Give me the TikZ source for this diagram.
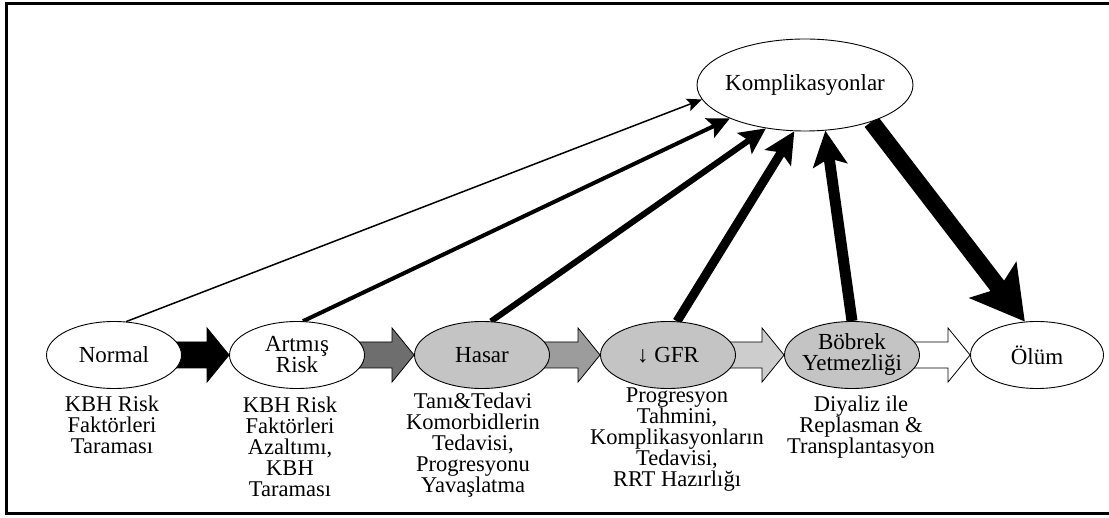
\documentclass[tikz,border=0pt]{standalone}
\usepackage{fontspec}
\setmainfont{Liberation Serif}
\usetikzlibrary{shapes.geometric,arrows.meta,calc}
\pgfdeclarelayer{background}
\pgfsetlayers{background,main}
\definecolor{ellgray}{HTML}{C4C4C4}
\definecolor{arrA}{HTML}{000000}
\definecolor{arrB}{HTML}{6E6E6E}
\definecolor{arrC}{HTML}{9C9C9C}
\definecolor{arrD}{HTML}{CDCDCD}
\definecolor{arrE}{HTML}{FFFFFF}
\newcommand\blockarr[3]{%
  \filldraw[draw=black,line width=0.8pt,fill=#3,line join=miter]
    ($(#1.center)+(50,-13)$) -- ($(#2.west)+(-22,-13)$) -- ($(#2.west)+(-22,-27)$)
    -- (#2.west) -- ($(#2.west)+(-22,27)$) -- ($(#2.west)+(-22,13)$)
    -- ($(#1.center)+(50,13)$) -- cycle;}
\begin{document}
\begin{tikzpicture}[x=1pt,y=-1pt,
  state/.style={ellipse,draw=black,line width=0.9pt,fill=white,minimum width=135pt,
    minimum height=67pt,inner sep=0pt,align=center,font=\fontsize{23}{21}\selectfont},
  grstate/.style={state,fill=ellgray},
  lab/.style={anchor=north,align=center,inner sep=0pt,font=\fontsize{22.5}{21}\selectfont},
  frame/.style={line width=3pt,line cap=rect},
  tocomp/.style={line cap=butt}]
\useasboundingbox (0,0) rectangle (1109,518);
\draw[frame] (1109,4) -- (6,4) -- (6,513) -- (1109,513);

\node[state,minimum width=216pt,minimum height=92pt] (komp) at (805,85) {\makebox[0pt]{Komplikasyonlar}};

\node[state] (normal) at (114,355) {Normal};
\node[state] (artmis) at (297,355) {Artmış\\Risk};
\node[grstate] (hasar) at (482,355) {Hasar};
\node[grstate] (gfr) at (668,355) {↓ GFR};
\node[grstate] (bobrek) at (852,355) {Böbrek\\\makebox[0pt]{Yetmezliği}};
\node[state,minimum width=133pt] (olum) at (1037,355) {Ölüm};

\node[lab] (l1) at (112,396) {KBH Risk\\Faktörleri\\Taraması};
\node[lab] (l2) at (290,397) {KBH Risk\\Faktörleri\\Azaltımı,\\KBH\\Taraması};
\node[lab] (l3) at (473,393) {Tanı\&Tedavi\\Komorbidlerin\\Tedavisi,\\Progresyonu\\Yavaşlatma};
\node[lab] (l4) at (677,388) {Progresyon\\Tahmini,\\Komplikasyonların\\Tedavisi,\\RRT Hazırlığı};
\node[lab] (l5) at (861,396) {Diyaliz ile\\Replasman \&\\Transplantasyon};

\begin{pgfonlayer}{background}
\blockarr{normal}{artmis}{arrA}
\blockarr{artmis}{hasar}{arrB}
\blockarr{hasar}{gfr}{arrC}
\blockarr{gfr}{bobrek}{arrD}
\blockarr{bobrek}{olum}{arrE}

\draw[tocomp,line width=1.5pt,-{Stealth[length=15pt,width=13pt,inset=3pt]}] (normal.70) -- (komp.188);
\draw[tocomp,line width=4pt,-{Stealth[length=22pt,width=21pt,inset=4pt]}] (artmis.80) -- (komp.204);
\draw[tocomp,line width=6pt,-{Stealth[length=26pt,width=25pt,inset=5pt]}] (hasar.75) -- (komp.228);
\draw[tocomp,line width=9pt,-{Stealth[length=31pt,width=30pt,inset=6pt]}] (gfr.75) -- (komp.257);
\draw[tocomp,line width=11pt,-{Stealth[length=35pt,width=34pt,inset=7pt]}] (bobrek.90) -- (komp.294);
\draw[tocomp,line width=17pt,-{Stealth[length=52pt,width=58pt,inset=10pt]}] (komp.331) -- (olum.110);
\end{pgfonlayer}
\end{tikzpicture}
\end{document}
